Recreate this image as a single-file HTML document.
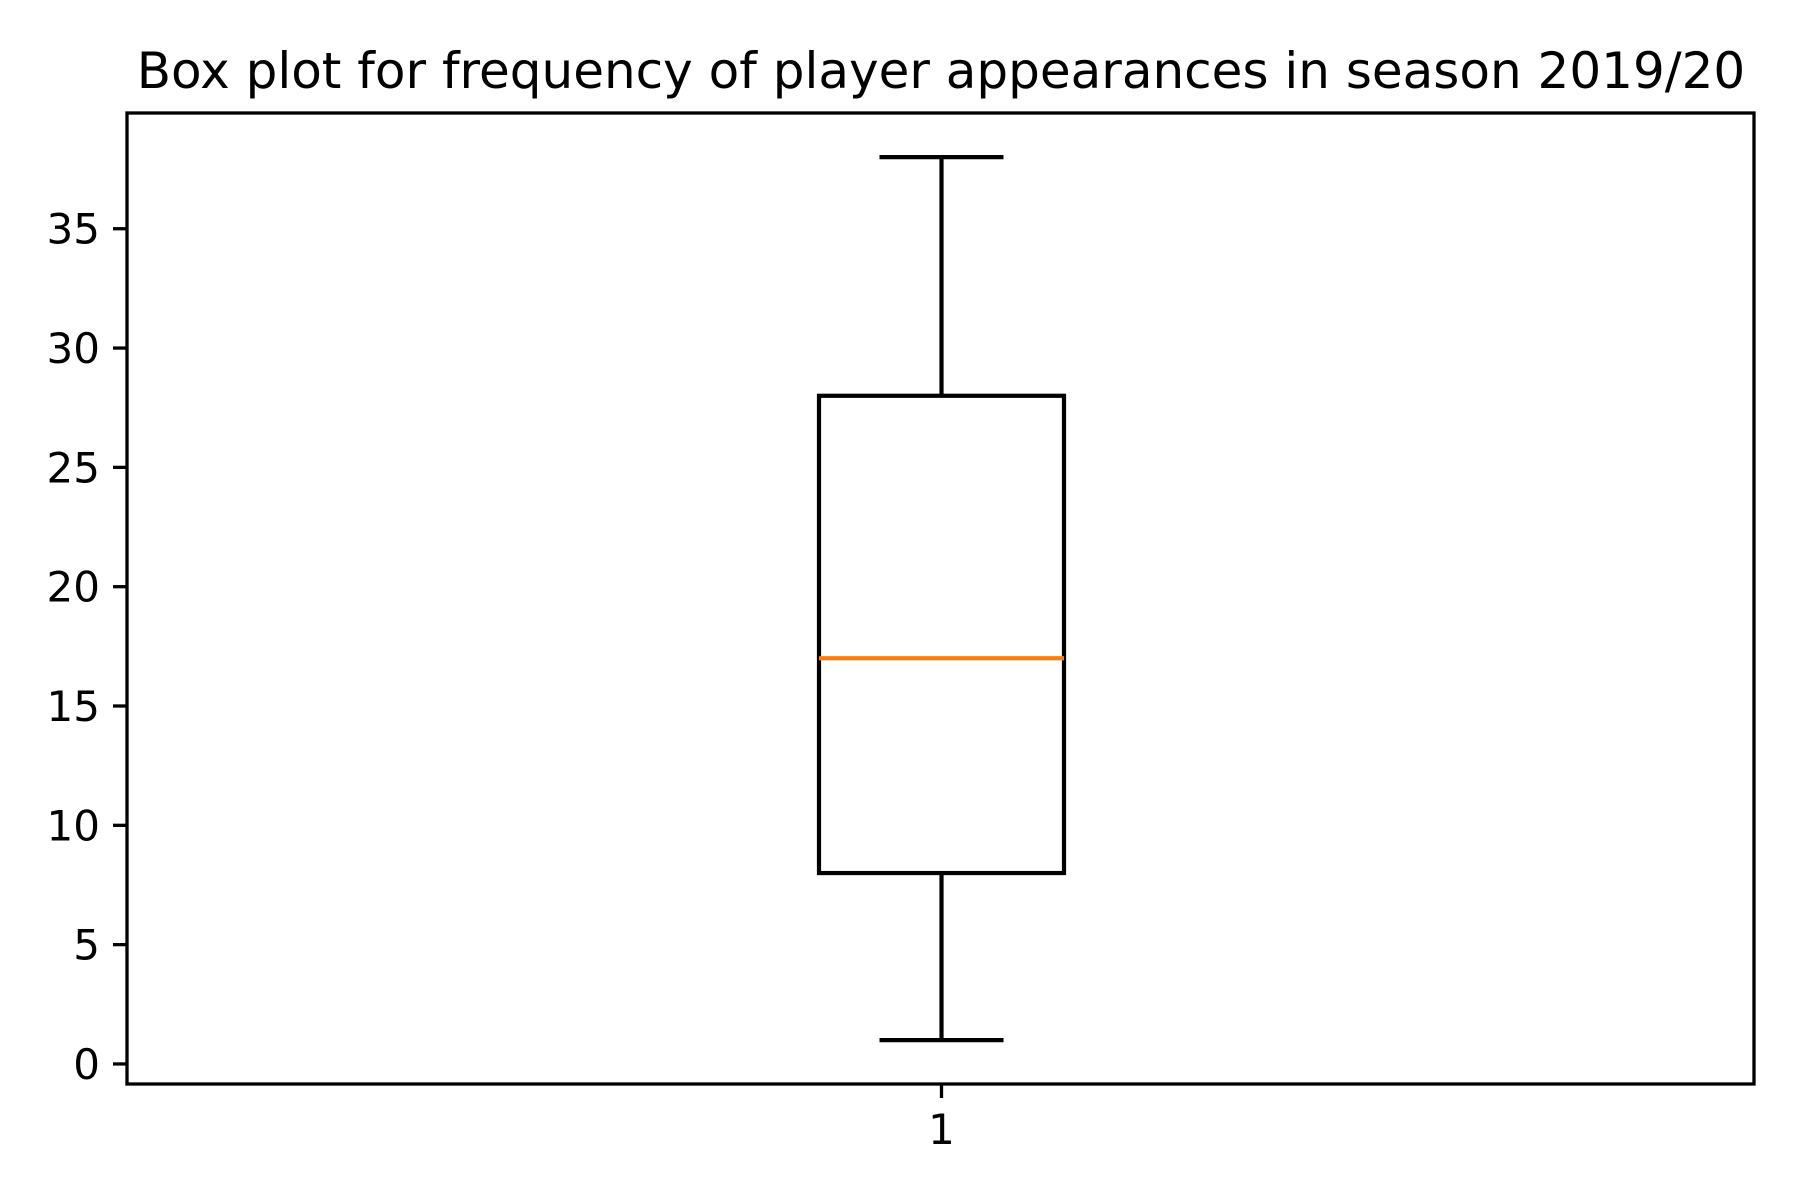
<!DOCTYPE html>
<html><head><meta charset="utf-8"><style>
html,body{margin:0;padding:0;background:#fff;}
svg{display:block;font-family:"DejaVu Sans","Liberation Sans",sans-serif;}
</style></head><body>
<svg id="chart" width="1800" height="1200" viewBox="0 0 1800 1200">
<rect x="0" y="0" width="1800" height="1200" fill="#fff"/>
<text x="941" y="88" font-size="50" text-anchor="middle">Box plot for frequency of player appearances in season 2019/20</text>
<g id="plot"></g>
</svg>
<script>
const categories = ["1"];
const whiskerLow = [1];
const q1Values = [8];
const medianValues = [17];
const q3Values = [28];
const whiskerHigh = [38];
const yTicks = [0, 5, 10, 15, 20, 25, 30, 35];

const NS = "http://www.w3.org/2000/svg";
const g = document.getElementById('plot');
const L = 127, R = 1754, T = 113, B = 1084;
const yMin = -0.84, yMax = 39.85;
function y(v){ return B - (v - yMin) / (yMax - yMin) * (B - T); }
function x(i){ return L + (i + 0.5) / categories.length * (R - L) + 1; }
function el(tag, attrs){ const e = document.createElementNS(NS, tag); for (const k in attrs) e.setAttribute(k, attrs[k]); g.appendChild(e); return e; }
function line(x1,y1,x2,y2,stroke,w){ return el('line',{x1,y1,x2,y2,stroke,'stroke-width':w}); }

yTicks.forEach(t => {
  const tk = line(L-14, y(t), L, y(t), '#000', 3.3);
  
  
  const tx = el('text',{x:L-27, y:y(t)+15, 'font-size':42, 'text-anchor':'end'});
  tx.textContent = t;
  
  
});

const bw = 245, cw = 124, lw = 4.2;
categories.forEach((c, i) => {
  const cx = x(i);
  const w1 = line(cx, y(whiskerLow[i]), cx, y(q1Values[i]), '#000', lw);
  
  
  const w2 = line(cx, y(q3Values[i]), cx, y(whiskerHigh[i]), '#000', lw);
  
  
  const c1 = line(cx-cw/2, y(whiskerLow[i]), cx+cw/2, y(whiskerLow[i]), '#000', lw);
  
  
  const c2 = line(cx-cw/2, y(whiskerHigh[i]), cx+cw/2, y(whiskerHigh[i]), '#000', lw);
  
  
  const box = el('rect',{x:cx-bw/2, y:y(q3Values[i]), width:bw, height:y(q1Values[i])-y(q3Values[i]), fill:'none', stroke:'#000', 'stroke-width':lw});
  
  
  const md = line(cx-bw/2, y(medianValues[i]), cx+bw/2, y(medianValues[i]), '#ff7f0e', lw);
  
  
  const xt = line(cx, B, cx, B+14, '#000', 3.3);
  
  
  const xl = el('text',{x:cx, y:B+60, 'font-size':42, 'text-anchor':'middle'});
  xl.textContent = c;
  
  
});

const frame = el('rect',{x:L, y:T, width:R-L, height:B-T, fill:'none', stroke:'#000', 'stroke-width':3.3});


</script>
</body></html>
